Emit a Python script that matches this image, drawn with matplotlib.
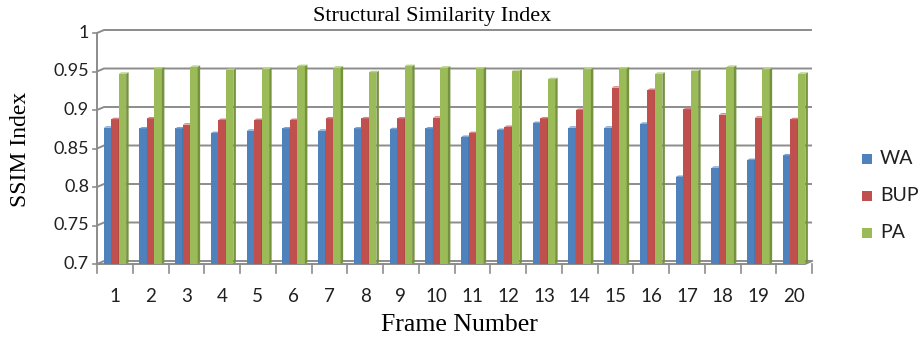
import matplotlib
matplotlib.use("Agg")
import matplotlib.pyplot as plt
from matplotlib.patches import Polygon, Rectangle

frames = list(range(1, 21))
wa = [0.877, 0.876, 0.876, 0.870, 0.873, 0.876, 0.873, 0.876, 0.875, 0.876,
      0.865, 0.874, 0.883, 0.877, 0.877, 0.882, 0.813, 0.825, 0.835, 0.841]
bup = [0.888, 0.889, 0.881, 0.887, 0.887, 0.887, 0.889, 0.889, 0.889, 0.890,
       0.870, 0.878, 0.889, 0.900, 0.929, 0.926, 0.901, 0.894, 0.890, 0.888]
pa = [0.947, 0.954, 0.956, 0.952, 0.953, 0.957, 0.955, 0.949, 0.957, 0.955,
      0.954, 0.951, 0.940, 0.953, 0.954, 0.947, 0.951, 0.956, 0.953, 0.947]
series_names = ["WA", "BUP", "PA"]
yticks = [0.7, 0.75, 0.8, 0.85, 0.9, 0.95, 1.0]
ytick_labels = ["0.7", "0.75", "0.8", "0.85", "0.9", "0.95", "1"]

colors = ["#4F81BD", "#C0504D", "#9BBB59"]
sides = ["#3A6494", "#963B39", "#76923F"]
tops = ["#7FA3D0", "#D68483", "#B8D08A"]

W, H = 921, 340
fig = plt.figure(figsize=(W / 100, H / 100), dpi=100)
x0, x1, ytop, ybot = 97, 812, 33, 264
ax = fig.add_axes([x0 / W, 1 - ybot / H, (x1 - x0) / W, (ybot - ytop) / H])
ax.set_xlim(0.5, 20.5)
ax.set_ylim(0.7, 1.0)
ax.axis("off")

pxx = (x1 - x0) / 20.0          # pixels per x unit
pxy = (ybot - ytop) / 0.3        # pixels per y unit
dx, dy = 7 / pxx, 3 / pxy        # wall depth
bdx, bdy = 2.5 / pxx, 1.5 / pxy  # bar depth

gcol = "#8C8C8C"
for v in yticks:
    ax.plot([0.5, 0.5 + dx, 20.5], [v, v + dy, v + dy], color=gcol, lw=1.4,
            clip_on=False, zorder=1, solid_capstyle="butt")
    ax.plot([0.5 - 4 / pxx, 0.5], [v, v], color=gcol, lw=1.2, clip_on=False, zorder=1)
ax.plot([0.5, 0.5], [0.7, 1.0], color=gcol, lw=1.4, clip_on=False, zorder=1)
ax.plot([0.5, 20.5 - dx, 20.5], [0.7, 0.7, 0.7 + dy], color=gcol, lw=1.4,
        clip_on=False, zorder=1)
for k in range(21):
    xk = 0.5 + k
    ax.plot([xk, xk], [0.7, 0.7 - 9 / pxy], color=gcol, lw=1.2, clip_on=False, zorder=1)

bw = 0.21
data = [wa, bup, pa]
for s, vals in enumerate(data):
    for i, v in enumerate(vals):
        xl = frames[i] - 1.5 * bw + s * bw
        xr = xl + bw
        ax.add_patch(Rectangle((xl, 0.7), bw, v - 0.7, facecolor=colors[s],
                               edgecolor="none", zorder=3 + s))
        ax.add_patch(Polygon([(xr, 0.7), (xr + bdx, 0.7 + bdy), (xr + bdx, v + bdy), (xr, v)],
                             closed=True, facecolor=sides[s], edgecolor="none", zorder=3 + s))
        ax.add_patch(Polygon([(xl, v), (xl + bdx, v + bdy), (xr + bdx, v + bdy), (xr, v)],
                             closed=True, facecolor=tops[s], edgecolor="none", zorder=3 + s))

tickfont = "Lato"
for v, lab in zip(yticks, ytick_labels):
    ax.text(0.5 - 8 / pxx, v, lab, ha="right", va="center", fontsize=13,
            family=tickfont, color="#202020")
for f in frames:
    ax.text(f, 0.7 - 33 / pxy, str(f), ha="center", va="center", fontsize=13.5,
            family=tickfont, color="#202020")

fig.text(432 / W, 1 - 17 / H, "Structural Similarity Index", ha="center", va="center",
         fontsize=16, family="Liberation Serif")
fig.text(21 / W, 1 - 149 / H, "SSIM Index", ha="center", va="center", rotation=90,
         fontsize=17, family="Liberation Serif")
fig.text(459 / W, 1 - 325 / H, "Frame Number", ha="center", va="center",
         fontsize=18.5, family="Liberation Serif")

for s, (name, yc) in enumerate(zip(series_names, [159, 196, 233])):
    fig.patches.append(Rectangle((862 / W, 1 - (yc + 5) / H), 10 / W, 10 / H,
                                 facecolor=colors[s], edgecolor="none",
                                 transform=fig.transFigure, figure=fig))
    fig.text(880 / W, 1 - yc / H, name, ha="left", va="center", fontsize=14,
             family=tickfont, color="#202020")

fig.savefig("out.png", dpi=100)
